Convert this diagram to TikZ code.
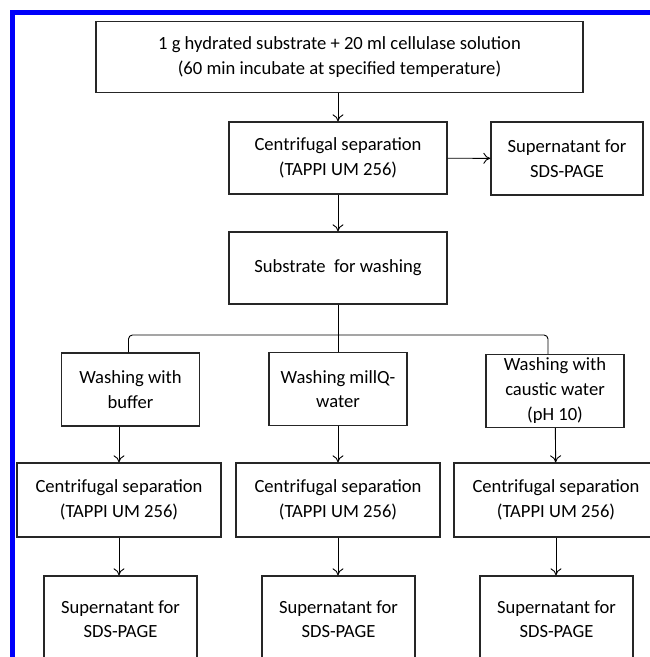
\documentclass[tikz,border=0pt]{standalone}
\usepackage{fontspec}
\setmainfont{Carlito}
\usetikzlibrary{arrows, arrows.meta, calc}
\definecolor{frameblue}{RGB}{0,0,250}
\tikzstyle{process} = [rectangle, text centered, align=center, draw=black!85, line width=1.3pt, inner sep=0pt, font=\fontsize{18.6}{24.5}\selectfont]
\tikzstyle{wash} = [process, minimum width=138pt, minimum height=73pt]
\tikzstyle{centri} = [process, minimum width=204pt, minimum height=74pt]
\tikzstyle{super} = [process, minimum width=153pt, minimum height=86pt]
\tikzstyle{arrow} = [line width=0.9pt,-{To[length=7pt, width=11pt]}]
\tikzstyle{link} = [line width=0.9pt, rounded corners=4pt]

\begin{document}
\begin{tikzpicture}[x=1pt, y=-1pt]
\useasboundingbox (0,0) rectangle (650,657);
\clip (0,0) rectangle (650,657);
\fill[frameblue] (10,10) rectangle (650,15);
\fill[frameblue] (10,10) rectangle (15,657);

\node (start) [process, minimum width=487pt, minimum height=71pt] at (339.5,57) {1 g hydrated substrate + 20 ml cellulase solution\\(60 min incubate at specified temperature)};
\node (sep) [process, minimum width=218pt, minimum height=72pt] at (338,158) {Centrifugal separation\\(TAPPI UM 256)};
\node (sup) [process, minimum width=152pt, minimum height=73pt] at (567,158.5) {Supernatant for\\SDS-PAGE};
\node (sub) [process, minimum width=218pt, minimum height=72pt] at (338,268) {Substrate \ for washing};
\coordinate (split) at (338,335);

\node (wbuf) [wash] at (130.5,389.5) {Washing with\\buffer};
\node (wmq) [wash] at (338,389) {Washing millQ-\\water};
\node (wcau) [wash, font=\fontsize{18.6}{25}\selectfont] at (555,391) {Washing with\\caustic water\\(pH 10)};

\node (sepbuf) [centri] at (119,500) {Centrifugal separation\\(TAPPI UM 256)};
\node (sepmq) [centri] at (338,500) {Centrifugal separation\\(TAPPI UM 256)};
\node (sepcau) [centri] at (556,500) {Centrifugal separation\\(TAPPI UM 256)};

\node (supbuf) [super] at (120.5,619) {Supernatant for\\SDS-PAGE};
\node (supmq) [super] at (338.5,619) {Supernatant for\\SDS-PAGE};
\node (supcau) [super] at (556.5,619) {Supernatant for\\SDS-PAGE};

\draw [arrow] (start.south -| sep) -- (sep);
\draw [arrow] (sep) -- (sup);
\draw [arrow] (sep) -- (sub);
\draw [link] (sub) -- (wmq);
\draw [link] ([xshift=-2pt]wbuf.north) |- (split) -| ([xshift=-7pt]wcau.north);
\draw [arrow] (sepbuf.north |- wbuf.south) -- (sepbuf.north);
\draw [arrow] (wmq) -- (sepmq);
\draw [arrow] (wcau) -- (sepcau);
\draw [arrow] (sepbuf) -- (sepbuf |- supbuf.north);
\draw [arrow] (sepmq) -- (sepmq |- supmq.north);
\draw [arrow] (sepcau) -- (sepcau |- supcau.north);
\end{tikzpicture}
\end{document}
